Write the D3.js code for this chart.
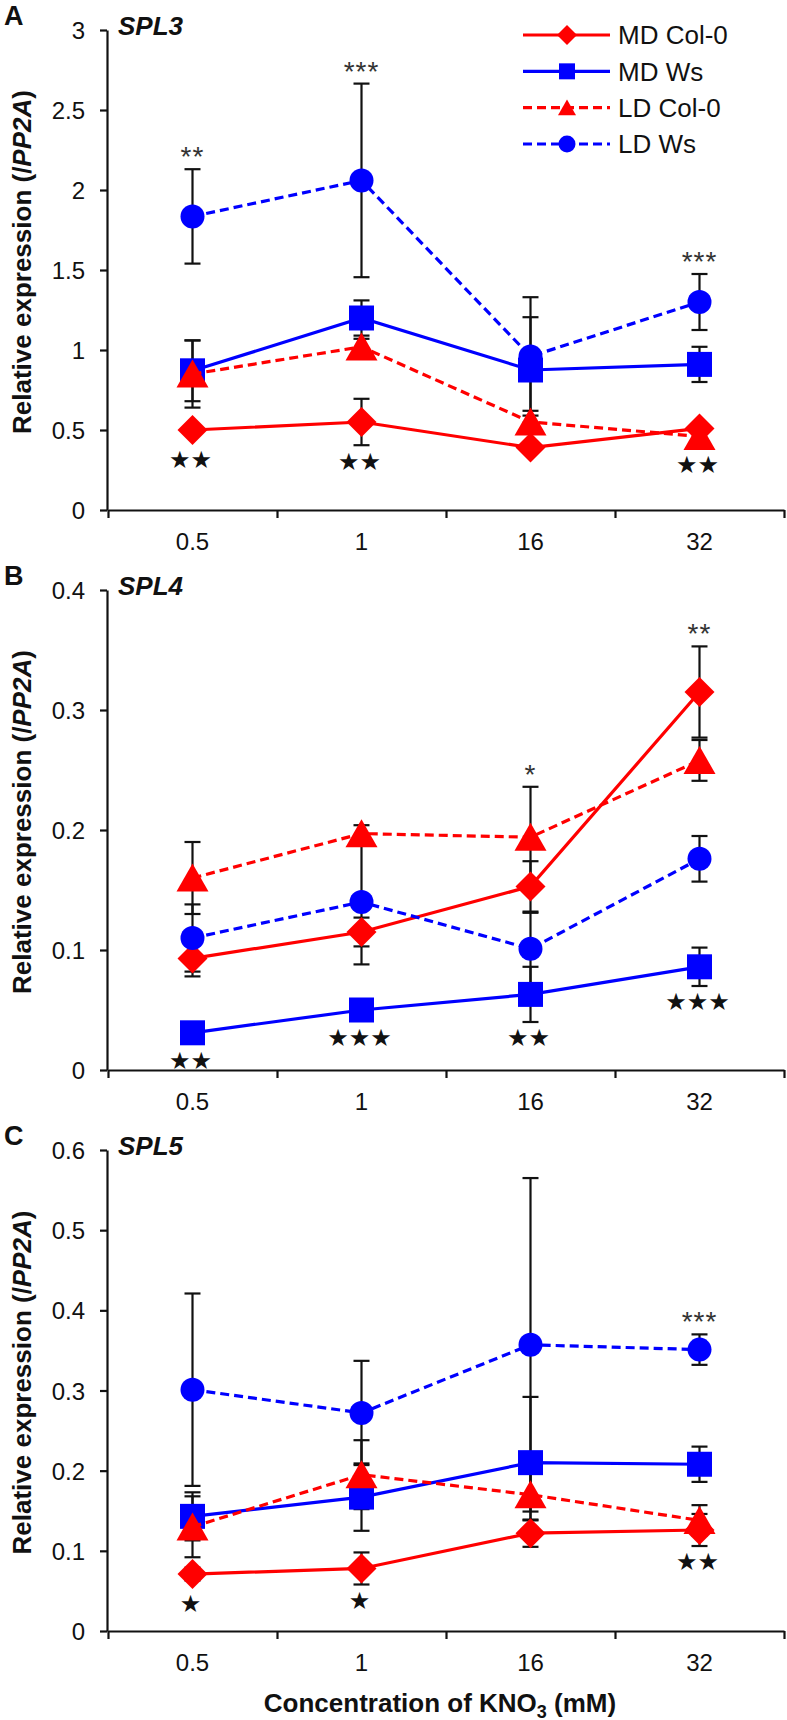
<!DOCTYPE html>
<html>
<head>
<meta charset="utf-8">
<script src="https://cdnjs.cloudflare.com/ajax/libs/d3/7.8.5/d3.min.js"></script>
<style>
  body { margin: 0; background: #fff; }
  text { font-family: Arial, "Liberation Sans", sans-serif; fill: #111; }
</style>
</head>
<body>
<div class="chart"></div>
<script>
var width = 787
  , height = 1720
  ;

var concentrations = ["0.5", "1", "16", "32"];
var seriesNames = ["MD Col-0", "MD Ws", "LD Col-0", "LD Ws"];

// SPL3
var spl3MdCol    = [0.50, 0.55, 0.39, 0.51];
var spl3MdColErr = [0.02, 0.145, 0.03, 0.02];
var spl3MdWs     = [0.87, 1.20, 0.875, 0.91];
var spl3MdWsErr  = [0.19, 0.11, 0.33, 0.11];
var spl3LdCol    = [0.85, 1.02, 0.55, 0.46];
var spl3LdColErr = [0.21, 0.05, 0.07, 0.03];
var spl3LdWs     = [1.835, 2.06, 0.96, 1.30];
var spl3LdWsErr  = [0.295, 0.605, 0.37, 0.175];
var spl3Asterisks = ["**", "***", "", "***"];
var spl3Stars     = ["★★", "★★", "", "★★"];

// SPL4
var spl4MdCol    = [0.093, 0.115, 0.153, 0.315];
var spl4MdColErr = [0.015, 0.012, 0.021, 0.038];
var spl4MdWs     = [0.031, 0.050, 0.063, 0.086];
var spl4MdWsErr  = [0.004, 0.004, 0.023, 0.016];
var spl4LdCol    = [0.160, 0.197, 0.194, 0.258];
var spl4LdColErr = [0.030, 0.007, 0.042, 0.017];
var spl4LdWs     = [0.110, 0.140, 0.101, 0.176];
var spl4LdWsErr  = [0.028, 0.052, 0.030, 0.019];
var spl4Asterisks = ["", "", "*", "**"];
var spl4Stars     = ["★★", "★★★", "★★", "★★★"];

// SPL5
var spl5MdCol    = [0.071, 0.078, 0.122, 0.126];
var spl5MdColErr = [0.008, 0.020, 0.017, 0.020];
var spl5MdWs     = [0.143, 0.167, 0.210, 0.208];
var spl5MdWsErr  = [0.030, 0.042, 0.082, 0.022];
var spl5LdCol    = [0.130, 0.195, 0.170, 0.138];
var spl5LdColErr = [0.038, 0.043, 0.032, 0.019];
var spl5LdWs     = [0.301, 0.272, 0.357, 0.351];
var spl5LdWsErr  = [0.120, 0.065, 0.208, 0.019];
var spl5Asterisks = ["", "", "", "***"];
var spl5Stars     = ["★", "★", "", "★★"];

var styles = [
  { color: "#ff0000", dash: null,  shape: "diamond" }
, { color: "#0000ff", dash: null,  shape: "square" }
, { color: "#ff0000", dash: "9,5", shape: "triangle" }
, { color: "#0000ff", dash: "9,5", shape: "circle" }
];

var panels = [
  { letter: "A", gene: "SPL3", top: 30, bottom: 510, yMax: 3, yStep: 0.5
  , series: [[spl3MdCol, spl3MdColErr], [spl3MdWs, spl3MdWsErr], [spl3LdCol, spl3LdColErr], [spl3LdWs, spl3LdWsErr]]
  , asterisks: spl3Asterisks, stars: spl3Stars, legend: true }
, { letter: "B", gene: "SPL4", top: 590, bottom: 1070, yMax: 0.4, yStep: 0.1
  , series: [[spl4MdCol, spl4MdColErr], [spl4MdWs, spl4MdWsErr], [spl4LdCol, spl4LdColErr], [spl4LdWs, spl4LdWsErr]]
  , asterisks: spl4Asterisks, stars: spl4Stars }
, { letter: "C", gene: "SPL5", top: 1150, bottom: 1631, yMax: 0.6, yStep: 0.1
  , series: [[spl5MdCol, spl5MdColErr], [spl5MdWs, spl5MdWsErr], [spl5LdCol, spl5LdColErr], [spl5LdWs, spl5LdWsErr]]
  , asterisks: spl5Asterisks, stars: spl5Stars }
];

var xLeft = 108, xRight = 784, axisX = 107;

var svg = d3.select(".chart").append("svg")
  .attr("width", width)
  .attr("height", height);

var x = d3.scaleBand().domain(concentrations).range([xLeft, xRight]);
var xEdges = d3.scaleLinear().domain([0, concentrations.length]).range([xLeft, xRight]);

function markerPath(shape, s) {
  var h = s / 2;
  if (shape === "diamond") return "M0," + (-h) + "L" + h + ",0L0," + h + "L" + (-h) + ",0Z";
  if (shape === "square") return "M" + (-h) + "," + (-h) + "H" + h + "V" + h + "H" + (-h) + "Z";
  if (shape === "triangle") return "M0," + (-h * 0.9) + "L" + h + "," + (h * 0.85) + "L" + (-h) + "," + (h * 0.85) + "Z";
  return d3.arc()({ innerRadius: 0, outerRadius: h, startAngle: 0, endAngle: 2 * Math.PI });
}

// how far each marker reaches below its centre
function markerBelow(shape, s) {
  return shape === "triangle" ? s / 2 * 0.85 : s / 2;
}

var markerSizes = { diamond: 30, square: 25, triangle: 32, circle: 24 };
var legendSizes = { diamond: 20, square: 16, triangle: 18, circle: 17 };

panels.forEach(drawPanel);

function drawPanel(p) {
  var g = svg.append("g");
  var y = d3.scaleLinear().domain([0, p.yMax]).range([p.bottom, p.top]);
  var yTicks = d3.range(0, p.yMax + p.yStep / 2, p.yStep);

  // axes
  var yAxis = g.append("g")
    .attr("transform", "translate(" + axisX + ",0)")
    .call(d3.axisLeft(y).tickValues(yTicks).tickFormat(d3.format("~g"))
      .tickSize(7).tickSizeOuter(0).tickPadding(15));
  yAxis.selectAll("text").style("font-size", "24px").attr("dy", "0.36em");

  var xAxis = g.append("g")
    .attr("transform", "translate(0," + p.bottom + ")")
    .call(d3.axisBottom(xEdges).ticks(concentrations.length).tickSize(8).tickSizeOuter(0));
  xAxis.selectAll("text").remove();

  var xLabels = g.append("g")
    .attr("transform", "translate(0," + p.bottom + ")")
    .call(d3.axisBottom(x).tickSize(0).tickPadding(23));
  xLabels.select(".domain").remove();
  xLabels.selectAll("text").style("font-size", "24px");

  g.selectAll(".domain, .tick line").attr("stroke", "#111").attr("stroke-width", 2.2);

  // panel letter + gene name
  g.append("text").attr("x", 4).attr("y", p.top - 5)
    .style("font-size", "27px").style("font-weight", "bold").text(p.letter);
  g.append("text").attr("x", 118).attr("y", p.top + 5)
    .style("font-size", "26px").style("font-weight", "bold").style("font-style", "italic").text(p.gene);

  // y title
  var yt = g.append("text")
    .attr("transform", "translate(31," + ((p.top + p.bottom) / 2 - 8) + ")rotate(-90)")
    .attr("text-anchor", "middle")
    .style("font-size", "26px").style("font-weight", "bold");
  yt.append("tspan").text("Relative expression (/");
  yt.append("tspan").style("font-style", "italic").text("PP2A");
  yt.append("tspan").text(")");

  var cx = function(i) { return x(concentrations[i]) + x.bandwidth() / 2; };

  // error bars
  var capW = 8;
  p.series.forEach(function(s) {
    var vals = s[0], errs = s[1];
    var eb = g.append("g").attr("stroke", "#111").attr("stroke-width", 2.2);
    vals.forEach(function(v, i) {
      var top = y(v + errs[i]), bot = y(v - errs[i]), xx = cx(i);
      eb.append("line").attr("x1", xx).attr("x2", xx).attr("y1", top).attr("y2", bot);
      eb.append("line").attr("x1", xx - capW).attr("x2", xx + capW).attr("y1", top).attr("y2", top);
      eb.append("line").attr("x1", xx - capW).attr("x2", xx + capW).attr("y1", bot).attr("y2", bot);
    });
  });

  // lines + markers
  var line = d3.line().x(function(d, i) { return cx(i); }).y(function(d) { return y(d); });
  p.series.forEach(function(s, k) {
    var st = styles[k];
    g.append("path").datum(s[0])
      .attr("d", line)
      .attr("fill", "none")
      .attr("stroke", st.color)
      .attr("stroke-width", 3.2)
      .attr("stroke-dasharray", st.dash);
    g.selectAll(null).data(s[0]).enter().append("path")
      .attr("transform", function(d, i) { return "translate(" + cx(i) + "," + y(d) + ")"; })
      .attr("d", markerPath(st.shape, markerSizes[st.shape]))
      .attr("fill", st.color);
  });

  // significance marks
  concentrations.forEach(function(c, i) {
    var tops = p.series.map(function(s) { return y(s[0][i] + s[1][i]); });
    var lowMarker = d3.max(p.series, function(s, k) {
      var sh = styles[k].shape;
      return y(s[0][i]) + markerBelow(sh, markerSizes[sh]);
    });
    var lowErr = d3.max(p.series, function(s) { return y(s[0][i] - s[1][i]); });
    if (p.asterisks[i]) {
      g.append("text")
        .attr("x", cx(i)).attr("y", d3.min(tops) - 18 + 15)
        .attr("text-anchor", "middle")
        .style("font-size", "28px").style("letter-spacing", "1px").style("fill", "#333")
        .text(p.asterisks[i]);
    }
    if (p.stars[i]) {
      g.append("text")
        .attr("x", cx(i) - 2).attr("y", Math.max(lowMarker + 15, lowErr + 16))
        .attr("dy", "0.35em")
        .attr("text-anchor", "middle")
        .style("font-family", "'DejaVu Sans', sans-serif")
        .style("font-size", "24px")
        .text(p.stars[i]);
    }
  });

  if (p.legend) drawLegend(g);
}

function drawLegend(g) {
  var ly = d3.scalePoint().domain(seriesNames).range([35, 144]);
  seriesNames.forEach(function(name, k) {
    var st = styles[k], yy = ly(name);
    g.append("line").attr("x1", 523).attr("x2", 610).attr("y1", yy).attr("y2", yy)
      .attr("stroke", st.color).attr("stroke-width", 3.2).attr("stroke-dasharray", st.dash);
    g.append("path").attr("transform", "translate(567," + yy + ")")
      .attr("d", markerPath(st.shape, legendSizes[st.shape]))
      .attr("fill", st.color);
    g.append("text").attr("x", 618).attr("y", yy).attr("dy", "0.36em")
      .style("font-size", "26px").text(name);
  });
}

// x title
var xt = svg.append("text")
  .attr("x", 440).attr("y", 1712)
  .attr("text-anchor", "middle")
  .style("font-size", "26px").style("font-weight", "bold");
xt.append("tspan").text("Concentration of KNO");
xt.append("tspan").attr("dy", 6).style("font-size", "18px").text("3");
xt.append("tspan").attr("dy", -6).text(" (mM)");
</script>
</body>
</html>
